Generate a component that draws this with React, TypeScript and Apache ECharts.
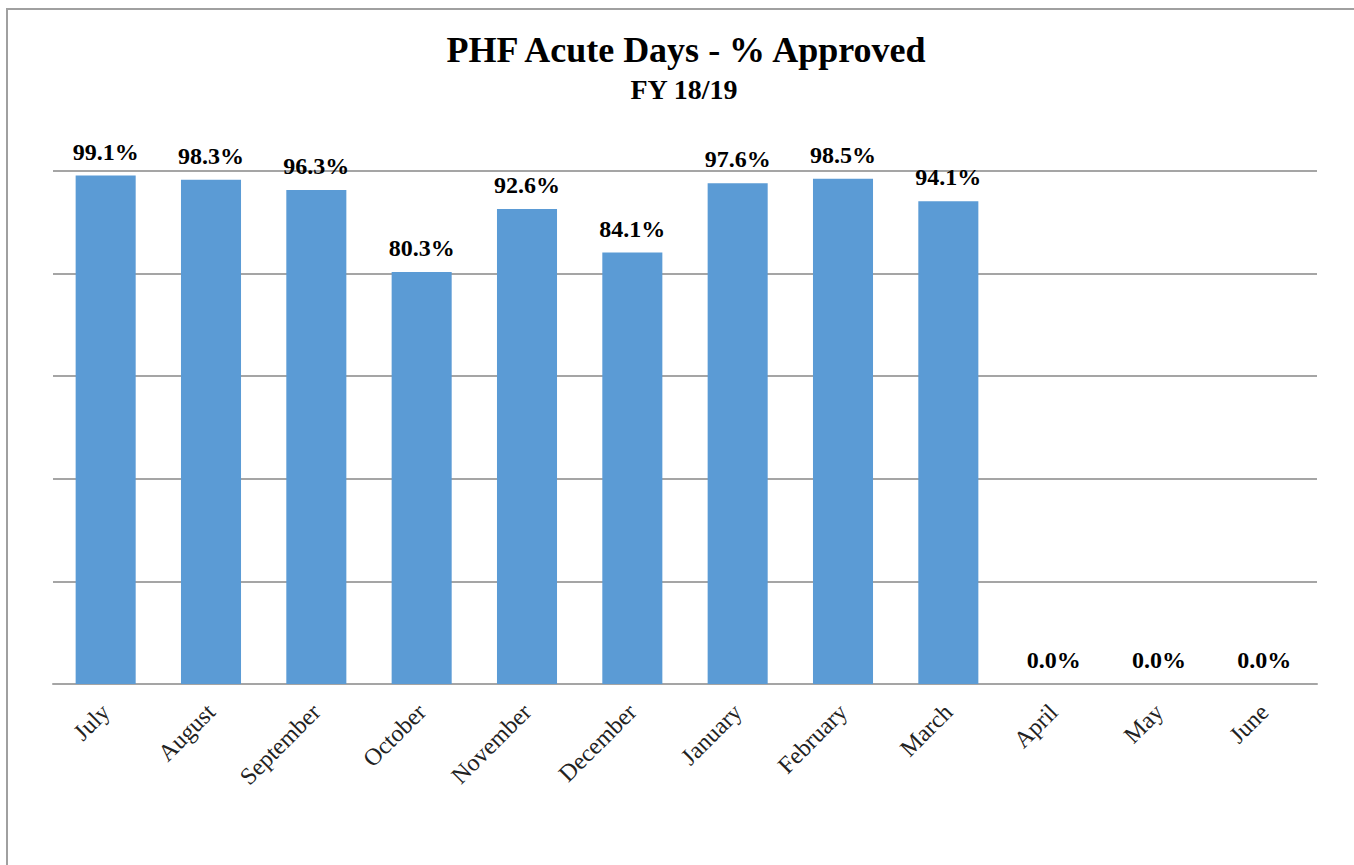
import React, { useEffect, useRef } from "react";
import * as echarts from "echarts";

const categories = ["July", "August", "September", "October", "November", "December", "January", "February", "March", "April", "May", "June"];
const approvedPct = [99.1, 98.3, 96.3, 80.3, 92.6, 84.1, 97.6, 98.5, 94.1, 0.0, 0.0, 0.0];
const titleText = "PHF Acute Days - % Approved";
const subtitleText = "FY 18/19";

const FONT = "'Liberation Serif', 'DejaVu Serif', serif";

export default function App() {
  const ref = useRef<HTMLDivElement>(null);
  useEffect(() => {
    document.body.style.margin = "0";
    const chart = echarts.init(ref.current!, null, { renderer: "svg" });
    chart.setOption({
      animation: false,
      backgroundColor: "#ffffff",
      graphic: [
        {
          type: "rect",
          shape: { x: 7, y: 9, width: 1400, height: 900 },
          style: { fill: "none", stroke: "#a0a0a0", lineWidth: 2 },
          silent: true,
        },
      ],
      title: [
        {
          text: titleText,
          left: 681,
          textAlign: "center",
          top: 27,
          textStyle: { fontFamily: FONT, fontSize: 36, fontWeight: "bold", color: "#000" },
        },
        {
          text: subtitleText,
          left: 679,
          textAlign: "center",
          top: 70,
          textStyle: { fontFamily: FONT, fontSize: 28, fontWeight: "bold", color: "#000" },
        },
      ],
      grid: { left: 53, right: 37, top: 171, bottom: 181, containLabel: false },
      xAxis: {
        type: "category",
        data: categories,
        axisTick: { show: false },
        axisLine: { lineStyle: { color: "#a5a5a5", width: 2 } },
        axisLabel: {
          rotate: 45,
          margin: 24,
          fontFamily: FONT,
          fontSize: 24,
          color: "#222",
          interval: 0,
        },
      },
      yAxis: {
        type: "value",
        min: 0,
        max: 100,
        interval: 20,
        axisLabel: { show: false },
        axisLine: { show: false },
        axisTick: { show: false },
        splitLine: { lineStyle: { color: "#a5a5a5", width: 2 } },
      },
      series: [
        {
          type: "bar",
          data: approvedPct,
          barCategoryGap: "43%",
          itemStyle: { color: "#5b9bd5" },
          label: {
            show: true,
            position: "top",
            distance: 12,
            fontFamily: FONT,
            fontSize: 24,
            fontWeight: "bold",
            color: "#000",
            formatter: (p: any) => p.value.toFixed(1) + "%",
          },
        },
      ],
    });
    return () => chart.dispose();
  }, []);
  return <div ref={ref} style={{ width: 1354, height: 865, position: "absolute", left: 0, top: 0 }} />;
}
